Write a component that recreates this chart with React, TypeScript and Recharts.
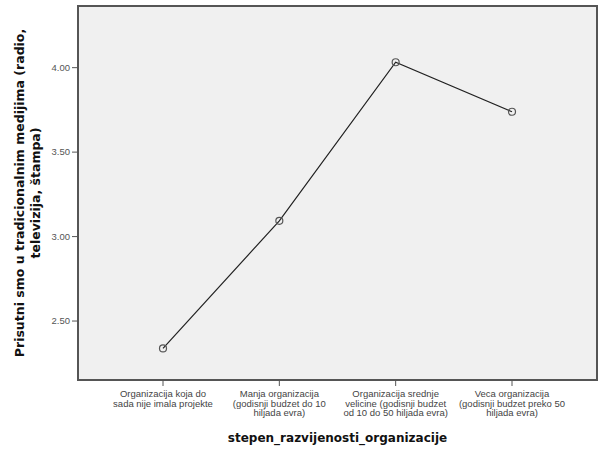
import * as Recharts from "recharts";
import { CartesianGrid, Label, Line, LineChart, XAxis, YAxis } from "recharts";

const categories = [
  "Organizacija koja do sada nije imala projekte",
  "Manja organizacija (godisnji budzet do 10 hiljada evra)",
  "Organizacija srednje velicine (godisnji budzet od 10 do 50 hiljada evra)",
  "Veca organizacija (godisnji budzet preko 50 hiljada evra)",
];
const categoryLines = [
  ["Organizacija koja do", "sada nije imala projekte"],
  ["Manja organizacija", "(godisnji budzet do 10", "hiljada evra)"],
  ["Organizacija srednje", "velicine (godisnji budzet", "od 10 do 50 hiljada evra)"],
  ["Veca organizacija", "(godisnji budzet preko 50", "hiljada evra)"],
];
const means = [2.338, 3.093, 4.032, 3.739];
const yTicks = [2.5, 3.0, 3.5, 4.0];
const yDomain = [2.151, 4.365];

const xTitle = "stepen_razvijenosti_organizacije";
const yTitle = ["Prisutni smo u tradicionalnim medijima (radio,", "televizija, štampa)"];

const data = categories.map((name, i) => ({ name, mean: means[i] }));

const usePlotArea: any = (Recharts as any).usePlotArea ?? (() => null);

function PlotFrame() {
  const area = usePlotArea();
  if (!area) return null;
  return (
    <rect x={area.x} y={area.y} width={area.width} height={area.height} fill="none" stroke="#555" strokeWidth={2} />
  );
}

function CategoryTick(props: any) {
  const { x, y, index } = props;
  const lines = categoryLines[index] ?? [];
  return (
    <text x={x} y={y} textAnchor="middle" fill="#444" fontSize={9.5} fontFamily="Liberation Sans, Arial, sans-serif">
      {lines.map((line, i) => (
        <tspan key={i} x={x} dy={i === 0 ? 9 : 9.5}>
          {line}
        </tspan>
      ))}
    </text>
  );
}

function YTitle(props: any) {
  const { viewBox } = props;
  const cy = viewBox.y + viewBox.height / 2;
  return (
    <g>
      {yTitle.map((line, i) => (
        <text
          key={i}
          x={0}
          y={0}
          transform={`translate(${24 + i * 16}, ${cy}) rotate(-90)`}
          textAnchor="middle"
          fontSize={12.5}
          fontWeight="bold"
          fontFamily="DejaVu Sans, sans-serif"
          fill="#111"
        >
          {line}
        </text>
      ))}
    </g>
  );
}

export default function App() {
  return (
    <div style={{ position: "absolute", left: 0, top: 0, width: 606, height: 450, background: "#fff" }}>
      <LineChart width={606} height={450} data={data} margin={{ top: 6, right: 9, bottom: 0, left: 0 }}>
        <CartesianGrid horizontal={false} vertical={false} fill="#f0f0f0" />
        <XAxis
          dataKey="name"
          height={70}
          padding={{ left: 85, right: 85 }}
          axisLine={false}
          tickLine={{ stroke: "#555" }}
          tickSize={6}
          tick={<CategoryTick />}
          interval={0}
        >
          <Label
            value={xTitle}
            position="insideBottom"
            offset={8}
            style={{ fontSize: 12, fontWeight: "bold", fontFamily: "DejaVu Sans, sans-serif", fill: "#111" }}
          />
        </XAxis>
        <YAxis
          type="number"
          width={78}
          domain={yDomain}
          ticks={yTicks}
          allowDataOverflow
          axisLine={false}
          tickLine={{ stroke: "#555" }}
          tickSize={6}
          tickFormatter={(v: number) => v.toFixed(2)}
          tick={{ fontSize: 9.5, fill: "#555", fontFamily: "Liberation Sans, Arial, sans-serif" }}
        >
          <Label content={<YTitle />} />
        </YAxis>
        <PlotFrame />
        <Line
          type="linear"
          dataKey="mean"
          stroke="#222"
          strokeWidth={1.2}
          dot={{ r: 3.5, stroke: "#555", strokeWidth: 1.2, fill: "none" }}
          activeDot={false}
          isAnimationActive={false}
        />
      </LineChart>
    </div>
  );
}
